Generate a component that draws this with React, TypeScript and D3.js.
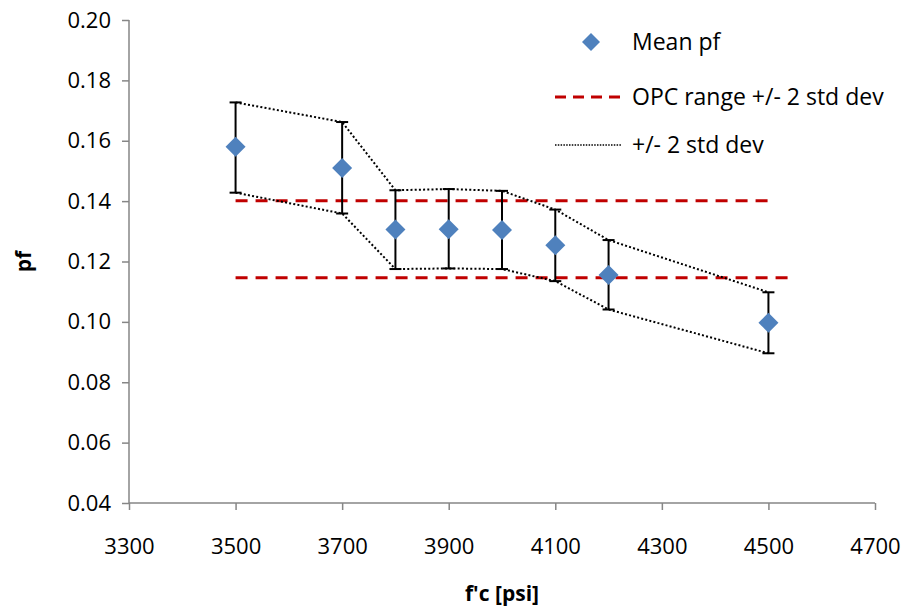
import { useEffect, useRef } from 'react';
import * as d3 from 'd3';

// compressive strength [psi]
const strengths = [3500, 3700, 3800, 3900, 4000, 4100, 4200, 4500];
const meanPf = [0.158, 0.151, 0.1306, 0.1307, 0.1304, 0.1254, 0.1155, 0.0997];
const upperPf = [0.1727, 0.1662, 0.1436, 0.144, 0.1434, 0.1372, 0.1271, 0.1098];
const lowerPf = [0.1428, 0.1359, 0.1175, 0.1177, 0.1175, 0.1135, 0.1041, 0.0896];

// OPC range lines
const opcUpperX = [3500, 4500];
const opcUpperY = [0.1401, 0.1401];
const opcLowerX = [3500, 4540];
const opcLowerY = [0.1146, 0.1146];

const xTicks = [3300, 3500, 3700, 3900, 4100, 4300, 4500, 4700];
const yTicks = [0.04, 0.06, 0.08, 0.1, 0.12, 0.14, 0.16, 0.18, 0.2];

const legendLabels = ['Mean pf', 'OPC range +/- 2 std dev', '+/- 2 std dev'];

const FONT = '"Open Sans", sans-serif';
const BLUE = '#4F81BD';
const RED = '#C00000';
const AXIS = '#868686';

const App = () => {
  const svgRef = useRef<SVGSVGElement>(null);

  useEffect(() => {
    const svg = d3.select(svgRef.current);
    svg.selectAll('*').remove();

    const x = d3.scaleLinear().domain([3300, 4700]).range([129, 875]);
    const y = d3.scaleLinear().domain([0.04, 0.2]).range([503, 20]);

    // axes
    const xAxis = svg.append('g')
      .attr('transform', `translate(0, ${y(0.04)})`)
      .call(d3.axisBottom(x).tickValues(xTicks).tickSize(7).tickPadding(28).tickFormat(d => String(d)));
    const yAxis = svg.append('g')
      .attr('transform', `translate(${x(3300)}, 0)`)
      .call(d3.axisLeft(y).tickValues(yTicks).tickSize(7).tickPadding(11).tickFormat(d3.format('.2f')));

    [xAxis, yAxis].forEach(a => {
      a.select('.domain').attr('stroke', AXIS).attr('stroke-width', 1.5);
      a.selectAll('.tick line').attr('stroke', AXIS).attr('stroke-width', 1.5);
      a.selectAll('.tick text')
        .attr('fill', '#000')
        .style('font-family', FONT)
        .style('font-size', '22px');
    });
    yAxis.select('.domain').attr('d', `M0,${y(0.2)}V${y(0.04)}`);
    xAxis.select('.domain').attr('d', `M${x(3300)},0H${x(4700)}`);

    // axis titles
    svg.append('text')
      .attr('x', (x(3300) + x(4700)) / 2)
      .attr('y', 601)
      .attr('text-anchor', 'middle')
      .style('font-family', FONT)
      .style('font-size', '21px')
      .style('font-weight', 'bold')
      .text("f'c [psi]");

    svg.append('text')
      .attr('transform', `translate(31, ${(y(0.04) + y(0.2)) / 2}) rotate(-90)`)
      .attr('text-anchor', 'middle')
      .style('font-family', FONT)
      .style('font-size', '21px')
      .style('font-weight', 'bold')
      .text('pf');

    // OPC range lines
    const line = d3.line<[number, number]>().x(d => x(d[0])).y(d => y(d[1]));
    [[opcUpperX, opcUpperY], [opcLowerX, opcLowerY]].forEach(([xs, ys]) => {
      svg.append('path')
        .attr('d', line(xs.map((v, i) => [v, ys[i]] as [number, number])))
        .attr('fill', 'none')
        .attr('stroke', RED)
        .attr('stroke-width', 3)
        .attr('stroke-dasharray', '12,8');
    });

    // +/- 2 std dev envelope
    [upperPf, lowerPf].forEach(vals => {
      svg.append('path')
        .attr('d', line(strengths.map((s, i) => [s, vals[i]] as [number, number])))
        .attr('fill', 'none')
        .attr('stroke', '#000')
        .attr('stroke-width', 2)
        .attr('stroke-dasharray', '2,2.2');
    });

    // error bars
    const capW = 6;
    strengths.forEach((s, i) => {
      const g = svg.append('g').attr('stroke', '#000').attr('stroke-width', 2);
      g.append('line')
        .attr('x1', x(s)).attr('x2', x(s))
        .attr('y1', y(upperPf[i])).attr('y2', y(lowerPf[i]));
      [upperPf[i], lowerPf[i]].forEach(v => {
        g.append('line')
          .attr('x1', x(s) - capW).attr('x2', x(s) + capW)
          .attr('y1', y(v)).attr('y2', y(v));
      });
    });

    // mean markers
    const diamond = (cx: number, cy: number, r: number) =>
      `M${cx},${cy - r}L${cx + r},${cy}L${cx},${cy + r}L${cx - r},${cy}Z`;
    svg.append('g').selectAll('path')
      .data(strengths)
      .join('path')
      .attr('d', (s, i) => diamond(x(s), y(meanPf[i]), 10))
      .attr('fill', BLUE);

    // legend
    const legend = svg.append('g');
    const rows = [42, 97, 145];
    legend.append('path').attr('d', diamond(591, rows[0], 9)).attr('fill', BLUE);
    legend.append('line')
      .attr('x1', 555).attr('x2', 621).attr('y1', rows[1]).attr('y2', rows[1])
      .attr('stroke', RED).attr('stroke-width', 3).attr('stroke-dasharray', '11,7');
    legend.append('line')
      .attr('x1', 555).attr('x2', 622).attr('y1', rows[2]).attr('y2', rows[2])
      .attr('stroke', '#000').attr('stroke-width', 1.5).attr('stroke-dasharray', '1.5,1.3');
    legendLabels.forEach((t, i) => {
      legend.append('text')
        .attr('x', 632)
        .attr('y', rows[i])
        .attr('dy', '0.35em')
        .style('font-family', FONT)
        .style('font-size', '23px')
        .text(t);
    });
  }, []);

  return (
    <svg
      ref={svgRef}
      width={906}
      height={611}
      viewBox="0 0 906 611"
      style={{ position: 'absolute', left: 0, top: 0, background: '#fff' }}
    />
  );
};

export default App;
